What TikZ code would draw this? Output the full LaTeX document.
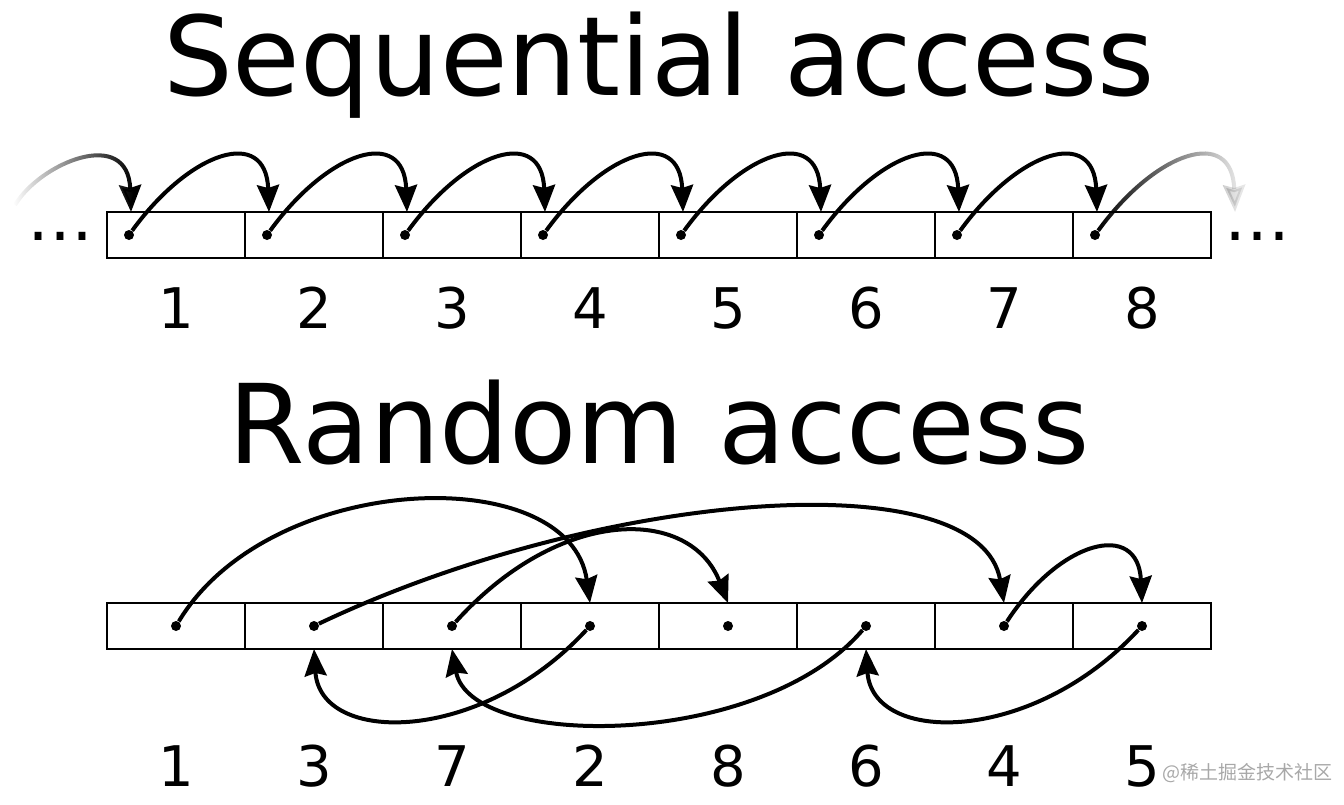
\documentclass[tikz,border=0pt]{standalone}
\usepackage{fontspec}
\setmainfont{DejaVu Sans}
\newfontfamily\cjkfont{Noto Sans CJK SC}
\usepackage{tikz}
\usepackage{xcolor}
\usetikzlibrary{
  positioning, arrows.meta, fadings,
}
\definecolor{cInk}  {HTML}{000000}
\definecolor{cMark} {HTML}{A8A8A8}
\tikzfading[name=fade out, left color=transparent!0, middle color=transparent!20, right color=transparent!90]
\tikzfading[name=fade in, left color=transparent!100, middle color=transparent!30, right color=transparent!0]

\begin{document}
\begin{tikzpicture}[x=0.5pt, y=-0.5pt,
    cell/.style={draw=cInk, line width=1pt, minimum width=69pt, minimum height=23pt, inner sep=0pt, outer sep=0pt},
    dot/.style={circle, fill=cInk, inner sep=0pt, minimum size=5pt},
    hop/.style={draw=cInk, line width=2pt, -{Stealth[length=13.5pt, width=11pt, inset=1.5pt]}},
    title/.style={font=\fontsize{55pt}{60pt}\selectfont, text=cInk, anchor=base, inner sep=0pt},
    num/.style={font=\fontsize{28pt}{32pt}\selectfont, text=cInk, anchor=base, inner sep=0pt},
    more/.style={font=\fontsize{33pt}{40pt}\selectfont, text=cInk, anchor=base, inner sep=0pt},
  ]
  \useasboundingbox (0,0) rectangle (1344,804);

  % sequential row
  \node[title] (tseq) at (659,95) {Sequential access};
  \node[cell] (s1) at (176,235) {};
  \foreach \i [count=\j from 2] in {1,...,7}
    \node[cell, right=0pt of s\i] (s\j) {};
  \foreach \i in {1,...,8} {
    \node[dot] (sd\i) at ([xshift=11pt]s\i.west) {};
    \coordinate (st\i) at ([xshift=12pt]s\i.north west);
    \node[num] (sn\i) at ([yshift=-35pt]s\i.south) {\i};
  }
  \coordinate (sfeed) at (15,205);
  \coordinate (sout) at ([xshift=12pt]s8.north east);
  \node[more] (sl) at (60,240) {…};
  \node[more] (sr) at (1257,240) {…};
  \foreach \i [count=\j from 2] in {1,...,7}
    \draw[hop] (sd\i) .. controls +(61,-84) and +(-3,-86) .. (st\j);
  \draw[hop, path fading=fade in] (sfeed) .. controls +(25,-42) and +(-3,-86) .. (st1);
  \draw[hop, path fading=fade out] (sd8) .. controls +(61,-84) and +(-3,-86) .. (sout);

  % random row
  \node[title] (trand) at (659,463) {Random access};
  \node[cell] (r1) at (176,626) {};
  \foreach \i [count=\j from 2] in {1,...,7}
    \node[cell, right=0pt of r\i] (r\j) {};
  \foreach \i/\n in {1/1, 2/3, 3/7, 4/2, 5/8, 6/6, 7/4, 8/5} {
    \node[dot] (rd\i) at (r\i.center) {};
    \node[num] (rn\i) at ([yshift=-68.5pt]r\i.south) {\n};
  }
  \draw[hop] (rd1) .. controls +(94,-156) and +(-20,-143) .. (r4.north);
  \draw[hop] (rd4) .. controls +(-110,119) and +(6,96) .. (r2.south);
  \draw[hop] (rd2) .. controls +(286,-136) and +(-24,-143) .. (r7.north);
  \draw[hop] (rd7) .. controls +(56,-86) and +(-4,-83) .. (r8.north);
  \draw[hop] (rd8) .. controls +(-110,119) and +(6,96) .. (r6.south);
  \draw[hop] (rd6) .. controls +(-106,124) and +(18,101) .. (r3.south);
  \draw[hop] (rd3) .. controls +(108,-120) and +(-38,-97) .. (r5.north);

  \node[font=\cjkfont\fontsize{9.5pt}{12pt}\selectfont, text=cMark, anchor=west, inner sep=0pt] (wm) at (1162,773) {@稀土掘金技术社区};
\end{tikzpicture}
\end{document}
